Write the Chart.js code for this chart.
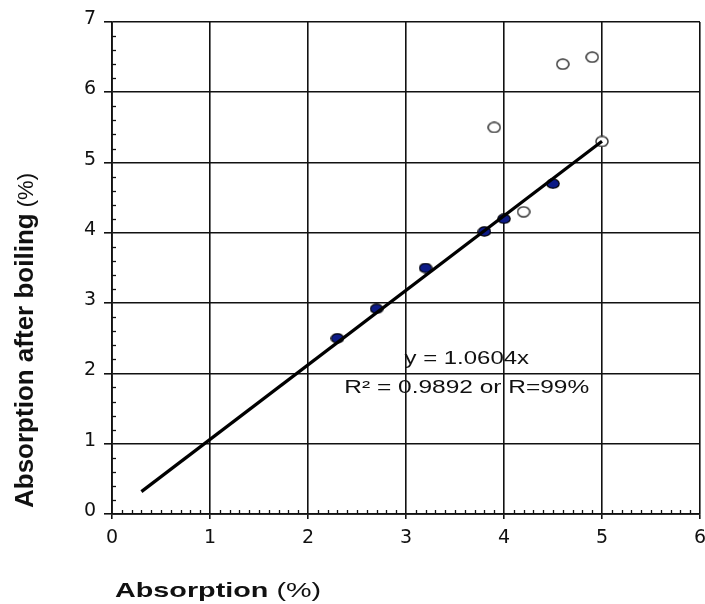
<!DOCTYPE html>
<html>
<head>
<meta charset="utf-8">
<script src="https://cdn.jsdelivr.net/npm/chart.js@4.4.1/dist/chart.umd.min.js"></script>
<style>
  html, body { margin: 0; padding: 0; background: #fff; }
  canvas { display: block; }
</style>
</head>
<body>
<canvas id="c" width="705" height="604"></canvas>
<script>
// Tick values of the two axes
const xTicks = [0, 1, 2, 3, 4, 5, 6];
const yTicks = [0, 1, 2, 3, 4, 5, 6, 7];

// Samples used for the regression (filled markers)
const fittedX = [2.3, 2.7, 3.2, 3.8, 4.0, 4.5];
const fittedY = [2.5, 2.92, 3.5, 4.02, 4.2, 4.7];

// Samples left out of the regression (open markers)
const excludedX = [3.9, 4.2, 4.6, 4.9, 5.0];
const excludedY = [5.5, 4.3, 6.4, 6.5, 5.3];

// Regression through the origin
const slope = 1.0604;
const rSquared = 0.9892;
const trendRange = [0.3, 5.0];

// Texts
const xTitle = ['Absorption', ' (%)'];
const yTitle = ['Absorption after boiling', ' (%)'];
const eqLabel = 'y = ' + slope + 'x';
const fitLabel = 'R\u00B2 = ' + rSquared + ' or R=99%';

const INK = '#111';
const FONT = '"Liberation Sans", Arial, Helvetica, sans-serif';

// Slightly wide elliptical markers
function marker(w, h, fill, stroke, lw) {
  const c = document.createElement('canvas');
  c.width = w; c.height = h;
  const g = c.getContext('2d');
  g.beginPath();
  g.ellipse(w / 2, h / 2, w / 2 - lw / 2 - 0.2, h / 2 - lw / 2 - 0.2, 0, 0, Math.PI * 2);
  g.fillStyle = fill; g.fill();
  g.lineWidth = lw; g.strokeStyle = stroke; g.stroke();
  return c;
}
const filledDot = marker(14, 11, '#0c1a86', '#000', 1.2);
const openDot = marker(14, 12, '#fff', '#3a3a3a', 1.5);

const pairs = (xs, ys) => xs.map((x, i) => ({ x, y: ys[i] }));
const trendPoints = trendRange.map(x => ({ x, y: slope * x }));

// Horizontally widened text
function wideText(ctx, text, x, y, font, sx, align) {
  ctx.save();
  ctx.font = font;
  const w = ctx.measureText(text).width * sx;
  let x0 = x;
  if (align === 'center') x0 = x - w / 2;
  ctx.translate(x0, y);
  ctx.scale(sx, 1);
  ctx.textAlign = 'left';
  ctx.textBaseline = 'alphabetic';
  ctx.fillText(text, 0, 0);
  ctx.restore();
  return w;
}

const decorations = {
  id: 'decorations',
  beforeDatasetsDraw(chart) {
    const { ctx, scales: { x, y } } = chart;
    ctx.save();
    ctx.strokeStyle = INK;
    ctx.lineWidth = 1.3;
    // inward minor ticks on the x axis, every 0.1
    const by = y.getPixelForValue(yTicks[0]);
    for (let i = 1; i < 60; i++) {
      if (i % 10 === 0) continue;
      const px = Math.round(x.getPixelForValue(i / 10)) + 0.5;
      ctx.beginPath(); ctx.moveTo(px, by); ctx.lineTo(px, by - 4); ctx.stroke();
    }
    // inward minor ticks on the y axis, every 0.2
    const lx = x.getPixelForValue(xTicks[0]);
    for (let i = 1; i < 35; i++) {
      if (i % 5 === 0) continue;
      const py = Math.round(y.getPixelForValue(i / 5)) + 0.5;
      ctx.beginPath(); ctx.moveTo(lx, py); ctx.lineTo(lx + 4, py); ctx.stroke();
    }
    ctx.restore();
  },
  afterDraw(chart) {
    const { ctx, scales: { x, y } } = chart;
    ctx.save();
    ctx.fillStyle = INK;

    // regression labels
    const cx = x.getPixelForValue(3.62);
    wideText(ctx, eqLabel, cx, y.getPixelForValue(2.13), '18px ' + FONT, 1.33, 'center');
    wideText(ctx, fitLabel, cx, y.getPixelForValue(1.72), '18px ' + FONT, 1.36, 'center');

    // x axis title
    let tx = 115;
    tx += wideText(ctx, xTitle[0], tx, 597, 'bold 21px ' + FONT, 1.37, 'left');
    wideText(ctx, xTitle[1], tx, 597, '21px ' + FONT, 1.37, 'left');

    // y axis title
    ctx.save();
    ctx.translate(33, 508);
    ctx.rotate(-Math.PI / 2);
    ctx.textAlign = 'left';
    ctx.textBaseline = 'alphabetic';
    ctx.font = 'bold 26px ' + FONT;
    ctx.fillText(yTitle[0], 0, 0);
    const w = ctx.measureText(yTitle[0]).width;
    ctx.font = '22px ' + FONT;
    ctx.fillText(yTitle[1], w, 0);
    ctx.restore();

    ctx.restore();
  }
};

new Chart(document.getElementById('c'), {
  type: 'scatter',
  data: {
    datasets: [
      {
        label: 'excluded',
        data: pairs(excludedX, excludedY),
        pointStyle: openDot,
        order: 3
      },
      {
        label: 'fitted',
        data: pairs(fittedX, fittedY),
        pointStyle: filledDot,
        order: 2
      },
      {
        type: 'line',
        label: 'trend',
        data: trendPoints,
        borderColor: '#000',
        borderWidth: 3.2,
        pointRadius: 0,
        fill: false,
        order: 1
      }
    ]
  },
  options: {
    responsive: false,
    animation: false,
    devicePixelRatio: 1,
    layout: { padding: { top: 22, right: 3, left: 0, bottom: 0 } },
    plugins: {
      legend: { display: false },
      tooltip: { enabled: false },
      title: { display: false }
    },
    scales: {
      x: {
        type: 'linear',
        min: xTicks[0],
        max: xTicks[xTicks.length - 1],
        afterBuildTicks: s => { s.ticks = xTicks.map(v => ({ value: v })); },
        afterFit: s => { s.height = 90; s.paddingLeft = 0; s.paddingRight = 0; },
        ticks: {
          color: INK,
          font: { family: '"DejaVu Sans", sans-serif', size: 19 },
          padding: 8,
          maxRotation: 0
        },
        grid: { color: INK, lineWidth: 1.6, tickLength: 5, tickColor: INK, tickWidth: 1.6 },
        border: { display: true, color: INK, width: 1.8 }
      },
      y: {
        type: 'linear',
        min: yTicks[0],
        max: yTicks[yTicks.length - 1],
        afterBuildTicks: s => { s.ticks = yTicks.map(v => ({ value: v })); },
        afterFit: s => { s.width = 112; s.paddingTop = 0; s.paddingBottom = 0; },
        ticks: {
          color: INK,
          font: { family: '"DejaVu Sans", sans-serif', size: 19 },
          padding: 8,
          labelOffset: -3
        },
        grid: { color: INK, lineWidth: 1.6, tickLength: 8, tickColor: INK, tickWidth: 1.6 },
        border: { display: true, color: INK, width: 1.8 }
      }
    }
  },
  plugins: [decorations]
});
</script>
</body>
</html>
